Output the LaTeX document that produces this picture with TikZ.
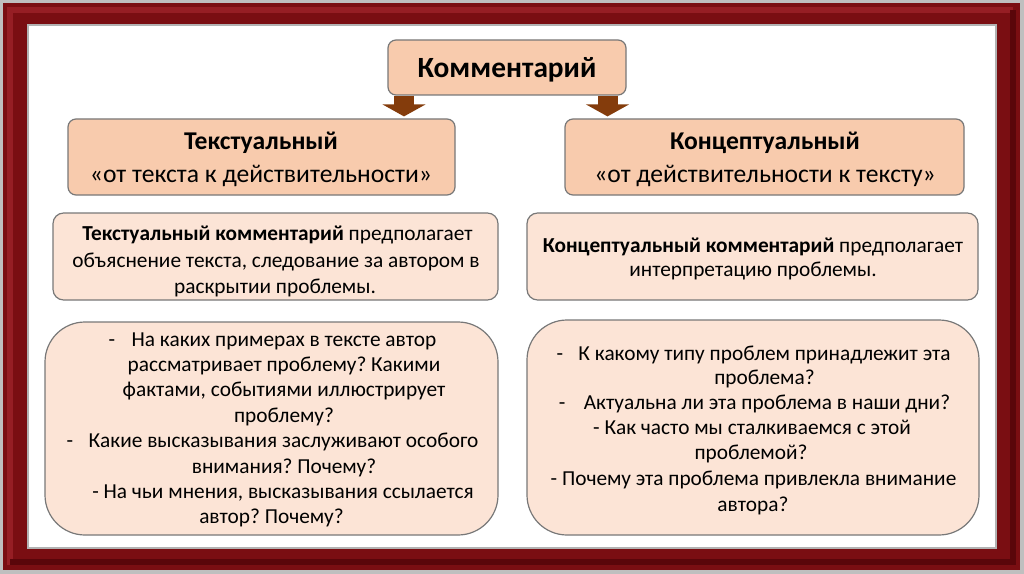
\documentclass[tikz,border=0pt]{standalone}
\usepackage{fontspec}
\setmainfont{Carlito}
\frenchspacing
\usetikzlibrary{arrows.meta,calc}
\definecolor{peach}{RGB}{248,203,173}
\definecolor{lightpeach}{RGB}{252,228,214}
\definecolor{boxline}{RGB}{120,120,120}
\definecolor{arrowbrown}{RGB}{132,60,12}
\definecolor{framered}{RGB}{122,14,18}
\definecolor{framelight}{RGB}{150,30,36}
\definecolor{framedark}{RGB}{90,6,10}
\begin{document}
\begin{tikzpicture}[x=0.75pt,y=-0.75pt,
  boxbase/.style={draw=boxline, line width=0.9pt, inner sep=0pt},
  topbox/.style={boxbase, fill=peach, rounded corners=6pt},
  midbox/.style={boxbase, fill=lightpeach, rounded corners=8pt},
  botbox/.style={boxbase, fill=lightpeach, rounded corners=30pt},
  headtext/.style={anchor=base, inner sep=0pt, font=\fontsize{19.2}{23}\selectfont},
  bodyline/.style={anchor=base, inner sep=0pt, font=\fontsize{16}{19}\selectfont},
  bigarrow/.style={draw=arrowbrown, line width=15pt, -{Triangle[width=32pt,length=9pt,fill=arrowbrown]}},
]
\useasboundingbox (0,0) rectangle (1024,574);
% frame
\fill[black!25] (0,0) rectangle (1024,574);
\fill[framered] (3,3) rectangle (1020,570);
\draw[framelight, line width=5pt] (10,565) -- (10,10) -- (1013,10);
\draw[framedark, line width=5pt] (10,562) -- (1013,562) -- (1013,10);
\fill[white] (28,25) rectangle (996,548);
\draw[black!30, line width=0.8pt] (28,25) rectangle (996,548);

% boxes
\node[topbox, minimum width=178.5pt, minimum height=41.25pt] (komm) at (507,67.5) {};
\node[topbox, minimum width=290.25pt, minimum height=57pt] (tb) at (261.5,157) {};
\node[topbox, minimum width=299.25pt, minimum height=57pt] (cb) at (764.5,157) {};
\node[midbox, minimum width=333.75pt, minimum height=65.25pt] (ml) at (275.5,256.5) {};
\node[midbox, minimum width=338.25pt, minimum height=65.25pt] (mr) at (752.5,256.5) {};
\node[botbox, minimum width=339.75pt, minimum height=159.75pt] (bl) at (271.5,428.5) {};
\node[botbox, minimum width=339pt, minimum height=161.25pt] (br) at (753,427.5) {};

% arrows
\coordinate (a1x) at (404,0);
\coordinate (a2x) at (607.5,0);
\draw[bigarrow, shorten >=1.5pt] (komm.south -| a1x) -- (tb.north -| a1x);
\draw[bigarrow, shorten >=1.5pt] (komm.south -| a2x) -- (cb.north -| a2x);

% texts
\node[anchor=base, inner sep=0pt, font=\fontsize{22}{26}\selectfont\bfseries] (kommt) at (507,78) {Комментарий};

\node[headtext] (tb1) at (261,150) {\textbf{Текстуальный}};
\node[headtext] (tb2) at (261,182) {«от текста к действительности»};
\node[headtext] (cb1) at (765,150) {\textbf{Концептуальный}};
\node[headtext] (cb2) at (765,182) {«от действительности к тексту»};

\node[bodyline] (ml1) at (277.5,240) {\textbf{Текстуальный комментарий} предполагает};
\node[bodyline] (ml2) at (276,267) {объяснение текста, следование за автором в};
\node[bodyline] (ml3) at (275,293) {раскрытии проблемы.};

\node[bodyline] (mr1) at (753,252) {\textbf{Концептуальный комментарий} предполагает};
\node[bodyline] (mr2) at (753,276) {интерпретацию проблемы.};

\node[bodyline] (bl1) at (272.5,346) {\makebox[17.25pt][l]{-}На каких примерах в тексте автор};
\node[bodyline] (bl2) at (284,371.4) {рассматривает проблему? Какими};
\node[bodyline] (bl3) at (284,396.8) {фактами, событиями иллюстрирует};
\node[bodyline] (bl4) at (284,422.2) {проблему?};
\node[bodyline] (bl5) at (272.5,447.6) {\makebox[16.5pt][l]{-}Какие высказывания заслуживают особого};
\node[bodyline] (bl6) at (284,473) {внимания? Почему?};
\node[bodyline] (bl7) at (283,498.4) {- На чьи мнения, высказывания ссылается};
\node[bodyline] (bl8) at (271.5,523.8) {автор? Почему?};

\node[bodyline] (br1) at (753.5,360) {\makebox[16.5pt][l]{-}К какому типу проблем принадлежит эта};
\node[bodyline] (br2) at (764.5,384.8) {проблема?};
\node[bodyline] (br3) at (754.5,409.6) {\makebox[18.75pt][l]{-}Актуальна ли эта проблема в наши дни?};
\node[bodyline] (br4) at (752,434.4) {- Как часто мы сталкиваемся с этой};
\node[bodyline] (br5) at (751,459.2) {проблемой?};
\node[bodyline] (br6) at (753.5,485) {- Почему эта проблема привлекла внимание};
\node[bodyline] (br7) at (753,511) {автора?};
\end{tikzpicture}
\end{document}
